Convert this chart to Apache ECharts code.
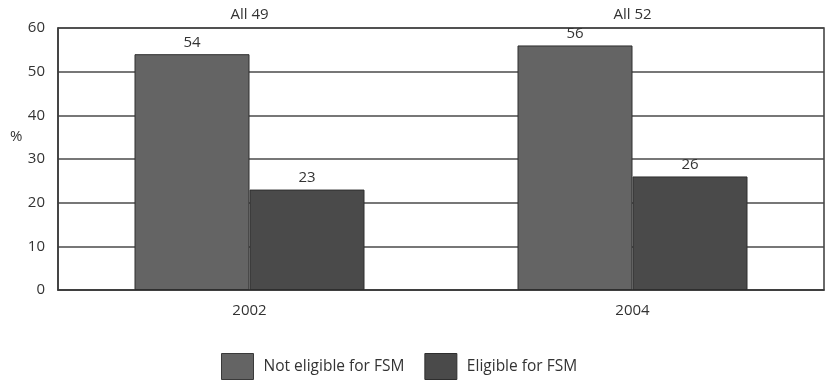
<!DOCTYPE html>
<html>
<head>
<meta charset="utf-8">
<script src="https://cdn.jsdelivr.net/npm/echarts@6/dist/echarts.min.js"></script>
<style>
  html, body { margin: 0; padding: 0; background: #fff; }
  #chart { width: 825px; height: 381px; }
</style>
</head>
<body>
<div id="chart"></div>
<script>
// Share of pupils (%) by free school meal eligibility
const years = ['2002', '2004'];
const allLabels = ['All 49', 'All 52'];
const notEligible = [54, 56];
const eligible = [23, 26];
const yTicks = [0, 10, 20, 30, 40, 50, 60];
const yTitle = '%';

const FONT = '"Open Sans", "DejaVu Sans", sans-serif';
const TEXT = '#333';
const FS = 15;

const chart = echarts.init(document.getElementById('chart'), null, { renderer: 'canvas' });

chart.setOption({
  backgroundColor: '#fff',
  animation: false,
  textStyle: { fontFamily: FONT },
  grid: {
    left: 58, right: 1, top: 28, bottom: 91,
    show: true, borderColor: '#3a3a3a', borderWidth: 1.5, backgroundColor: 'transparent'
  },
  // axis title sits a little above the middle of the value axis
  graphic: [
    {
      type: 'text',
      left: 10,
      top: 129,
      style: { text: yTitle, font: FS + 'px ' + FONT, fill: TEXT }
    }
  ],
  legend: {
    top: 353,
    left: 221,
    padding: 0,
    icon: 'rect',
    itemWidth: 32,
    itemHeight: 26,
    itemGap: 20,
    textStyle: { fontFamily: FONT, fontSize: 15.5, color: TEXT, padding: [0, 0, 0, 5] },
    data: [
      { name: 'Not eligible for FSM', itemStyle: { borderColor: '#3a3a3a', borderWidth: 1 } },
      { name: 'Eligible for FSM', itemStyle: { borderColor: '#2e2e2e', borderWidth: 1 } }
    ]
  },
  xAxis: [
    {
      type: 'category',
      data: years,
      position: 'bottom',
      axisLine: { lineStyle: { color: '#3a3a3a', width: 1.5 } },
      axisTick: { inside: true, length: 7, lineStyle: { color: '#3a3a3a' } },
      axisLabel: { fontFamily: FONT, fontSize: FS, color: TEXT, margin: 13 }
    },
    {
      type: 'category',
      data: allLabels,
      position: 'top',
      axisLine: { show: false },
      axisTick: { show: false },
      axisLabel: { fontFamily: FONT, fontSize: FS, color: TEXT, margin: 6 }
    }
  ],
  yAxis: {
    type: 'value',
    min: yTicks[0],
    max: yTicks[yTicks.length - 1],
    interval: yTicks[1] - yTicks[0],
    axisLine: { show: true, lineStyle: { color: '#3a3a3a', width: 1.5 } },
    axisTick: { show: false },
    axisLabel: { fontFamily: FONT, fontSize: FS, color: TEXT, margin: 13 },
    splitLine: { lineStyle: { color: '#4a4a4a', width: 1.5 } }
  },
  series: [
    {
      name: 'Not eligible for FSM',
      type: 'bar',
      data: notEligible,
      barWidth: 115,
      barGap: '0%',
      itemStyle: { color: '#646464', borderColor: '#2e2e2e', borderWidth: 1 },
      label: { show: true, position: 'top', distance: 4, fontFamily: FONT, fontSize: FS, color: TEXT }
    },
    {
      name: 'Eligible for FSM',
      type: 'bar',
      data: eligible,
      barWidth: 115,
      barGap: '0%',
      itemStyle: { color: '#4a4a4a', borderColor: '#2e2e2e', borderWidth: 1 },
      label: { show: true, position: 'top', distance: 4, fontFamily: FONT, fontSize: FS, color: TEXT }
    }
  ]
});
</script>
</body>
</html>
